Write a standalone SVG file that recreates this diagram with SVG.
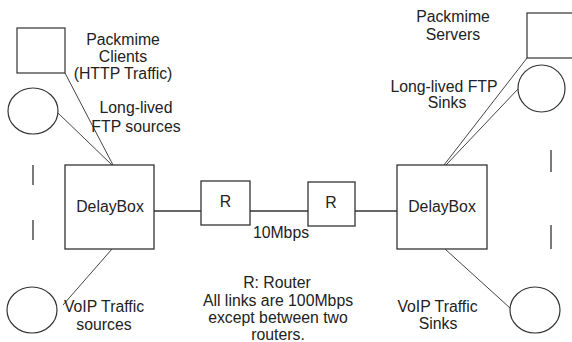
<svg xmlns="http://www.w3.org/2000/svg" width="572" height="342" viewBox="0 0 572 342">
  <style>
    .box { fill: #fff; stroke: #333; stroke-width: 1.3; }
    .host { fill: none; stroke: #333; stroke-width: 1.2; }
    .wire { fill: none; stroke: #444; stroke-width: 1; }
    .link { fill: none; stroke: #333; stroke-width: 1.6; }
    .dash { fill: none; stroke: #333; stroke-width: 1.3; }
    text { font-family: "Liberation Sans", Arial, sans-serif; font-size: 15.8px; fill: #222; text-anchor: middle; }
  </style>
  <rect width="572" height="342" fill="#fff"/>

  <!-- connectors -->
  <g id="connectors">
    <line class="wire" x1="65" y1="73" x2="113" y2="165"/>
    <line class="wire" x1="58" y1="113" x2="112" y2="165"/>
    <line class="wire" x1="112" y1="249" x2="63" y2="305"/>
    <line class="wire" x1="527" y1="58" x2="444" y2="165"/>
    <line class="wire" x1="518" y1="89" x2="446" y2="165"/>
    <line class="wire" x1="445" y1="249" x2="510" y2="308"/>
    <line class="link" x1="154" y1="211" x2="201" y2="211"/>
    <line class="link" x1="250" y1="211" x2="308" y2="211"/>
    <line class="link" x1="355" y1="211" x2="397" y2="211"/>
    <line class="dash" x1="33" y1="165" x2="33" y2="185"/>
    <line class="dash" x1="33" y1="220" x2="33" y2="240"/>
    <line class="dash" x1="551" y1="150" x2="551" y2="172"/>
    <line class="dash" x1="551" y1="225" x2="551" y2="249"/>
  </g>

  <!-- left side hosts -->
  <g id="packmime-clients">
    <rect class="host" x="17" y="28" width="48" height="45"/>
    <text x="123" y="45">Packmime</text>
    <text x="123" y="62">Clients</text>
    <text x="123" y="79">(HTTP Traffic)</text>
  </g>
  <g id="ftp-sources">
    <ellipse class="host" cx="33" cy="111" rx="25" ry="23"/>
    <text x="136" y="113">Long-lived</text>
    <text x="136" y="132">FTP sources</text>
  </g>
  <g id="voip-sources">
    <ellipse class="host" cx="32" cy="310" rx="25" ry="23"/>
    <text x="104" y="312">VoIP Traffic</text>
    <text x="104" y="330">sources</text>
  </g>

  <!-- delay boxes and routers -->
  <g id="delaybox-left">
    <rect class="box" x="65" y="165" width="89" height="84"/>
    <text x="110" y="212">DelayBox</text>
  </g>
  <g id="router-1">
    <rect class="box" x="201" y="181" width="49" height="44"/>
    <text x="225.5" y="207">R</text>
  </g>
  <g id="router-2">
    <rect class="box" x="308" y="182" width="47" height="44"/>
    <text x="331" y="208">R</text>
  </g>
  <g id="delaybox-right">
    <rect class="box" x="397" y="165" width="90" height="84"/>
    <text x="442" y="212">DelayBox</text>
  </g>

  <!-- right side hosts -->
  <g id="packmime-servers">
    <rect class="host" x="527" y="13" width="50" height="45"/>
    <text x="453" y="22">Packmime</text>
    <text x="453" y="40">Servers</text>
  </g>
  <g id="ftp-sinks">
    <ellipse class="host" cx="541.5" cy="88.5" rx="23.5" ry="23.5"/>
    <text x="444" y="92">Long-lived FTP</text>
    <text x="447" y="108">Sinks</text>
  </g>
  <g id="voip-sinks">
    <ellipse class="host" cx="535" cy="310" rx="25" ry="23"/>
    <text x="437.5" y="312">VoIP Traffic</text>
    <text x="438" y="329">Sinks</text>
  </g>

  <!-- labels -->
  <g id="labels">
    <text x="281" y="238">10Mbps</text>
    <text x="277" y="288">R: Router</text>
    <text x="278" y="306">All links are 100Mbps</text>
    <text x="278" y="323">except between two</text>
    <text x="278" y="340">routers.</text>
  </g>
</svg>
